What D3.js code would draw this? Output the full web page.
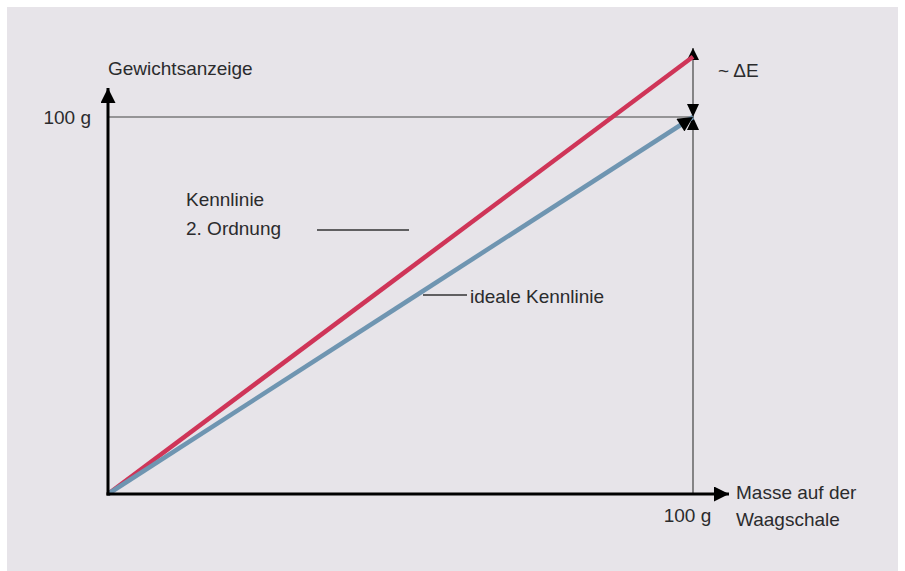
<!DOCTYPE html>
<html><head><meta charset="utf-8">
<script src="https://cdn.jsdelivr.net/npm/d3@7"></script>
<style>
html,body{margin:0;padding:0;background:#e7e4e9;overflow:hidden;}
svg{display:block;}
text{font-family:"Liberation Sans",Arial,sans-serif;fill:#2b2b2d;}
</style></head>
<body>
<script>
// ---- data ----
const massValues = [0, 50, 100];              // Masse auf der Waagschale (g)
const idealValues = [0, 50, 100];             // ideale Kennlinie
const secondOrderValues = [0, 58, 116];       // Kennlinie 2. Ordnung
const xTickValues = [100];
const yTickValues = [100];
const tickUnit = " g";
const xAxisLabel = ["Masse auf der", "Waagschale"];
const yAxisLabel = "Gewichtsanzeige";
const labelSecondOrder = ["Kennlinie", "2. Ordnung"];
const labelIdeal = "ideale Kennlinie";
const labelDelta = "~ \u0394E";

const W = 905, H = 571, FS = 19;
const svg = d3.select("body").append("svg").attr("width", W).attr("height", H);

svg.append("rect").attr("x", 0).attr("y", 0).attr("width", W).attr("height", H).attr("fill", "#fff");
svg.append("rect").attr("x", 7).attr("y", 7).attr("width", 891).attr("height", H).attr("fill", "#e7e4e9");

const x = d3.scaleLinear().domain([0, 100]).range([108, 693]);
const y = d3.scaleLinear().domain([0, 100]).range([494, 117]);

const defs = svg.append("defs");
function marker(id, color, w, h) {
  defs.append("marker").attr("id", id).attr("viewBox", "0 0 10 10")
    .attr("refX", 10).attr("refY", 5).attr("markerUnits", "userSpaceOnUse")
    .attr("markerWidth", w).attr("markerHeight", h).attr("orient", "auto")
    .append("path").attr("d", "M0,0L10,5L0,10Z").attr("fill", color);
}
marker("arrBig", "#000", 17, 15);
marker("arrThin", "#000", 12, 12);
marker("arrBlue", "#000", 16, 15);

const g = svg.append("g");

// guide lines for 100 g
g.append("line").attr("x1", x(0)).attr("x2", x(100)).attr("y1", y(100)).attr("y2", y(100))
  .attr("stroke", "#444").attr("stroke-width", 1.2);
g.append("line").attr("x1", x(100)).attr("x2", x(100)).attr("y1", y(0)).attr("y2", 48)
  .attr("stroke", "#444").attr("stroke-width", 1.2).attr("marker-end", "url(#arrThin)");

// delta E markers (bow tie)
const dx = x(100), dyv = y(100);
g.append("path").attr("d", `M${dx-6},${dyv-13}L${dx+6},${dyv-13}L${dx},${dyv}Z`).attr("fill", "#000");
g.append("path").attr("d", `M${dx-6},${dyv+13}L${dx+6},${dyv+13}L${dx},${dyv}Z`).attr("fill", "#000");

// lines
const line = d3.line().x((d, i) => x(massValues[i])).y(d => y(d));
g.append("path").datum(secondOrderValues).attr("d", line).attr("fill", "none")
  .attr("stroke", "#cf3558").attr("stroke-width", 4.5);
g.append("path").datum(idealValues).attr("d", line).attr("fill", "none")
  .attr("stroke", "#6f95b1").attr("stroke-width", 4.5).attr("marker-end", "url(#arrBlue)");

// axes lines with arrows
g.append("line").attr("x1", x(0)).attr("x2", x(0)).attr("y1", y(0) + 1.5).attr("y2", 88)
  .attr("stroke", "#000").attr("stroke-width", 3).attr("marker-end", "url(#arrBig)");
g.append("line").attr("x1", x(0) - 1.5).attr("x2", 729).attr("y1", y(0)).attr("y2", y(0))
  .attr("stroke", "#000").attr("stroke-width", 3).attr("marker-end", "url(#arrBig)");

// tick labels via d3 axes
const yAxis = d3.axisLeft(y).tickValues(yTickValues).tickSize(0).tickPadding(17).tickFormat(d => d + tickUnit);
const ya = svg.append("g").attr("transform", `translate(${x(0)},0)`).call(yAxis);
ya.select(".domain").remove();
ya.selectAll("text").attr("font-size", FS).attr("font-family", null).attr("fill", "#2b2b2d");

const xAxis = d3.axisBottom(x).tickValues(xTickValues).tickSize(0).tickPadding(15).tickFormat(d => d + tickUnit);
const xa = svg.append("g").attr("transform", `translate(0,${y(0)})`).call(xAxis);
xa.select(".domain").remove();
xa.selectAll("text").attr("font-size", FS).attr("font-family", null).attr("fill", "#2b2b2d").attr("dx", -6);

// labels
svg.append("text").attr("x", 108).attr("y", 75).attr("font-size", FS).text(yAxisLabel);
svg.append("text").attr("x", 736).attr("y", 499).attr("font-size", FS)
  .selectAll("tspan").data(xAxisLabel).join("tspan").attr("x", 736).attr("dy", (d, i) => i ? 27 : 0).text(d => d);
svg.append("text").attr("x", 718).attr("y", 77).attr("font-size", FS).text(labelDelta);
svg.append("text").attr("x", 186).attr("y", 206).attr("font-size", FS)
  .selectAll("tspan").data(labelSecondOrder).join("tspan").attr("x", 186).attr("dy", (d, i) => i ? 29 : 0).text(d => d);
svg.append("line").attr("x1", 317).attr("x2", 409).attr("y1", 230).attr("y2", 230).attr("stroke", "#333").attr("stroke-width", 1.5);
svg.append("text").attr("x", 470).attr("y", 303).attr("font-size", FS).text(labelIdeal);
svg.append("line").attr("x1", 423).attr("x2", 467).attr("y1", 295).attr("y2", 295).attr("stroke", "#333").attr("stroke-width", 1.5);
</script>
</body></html>
